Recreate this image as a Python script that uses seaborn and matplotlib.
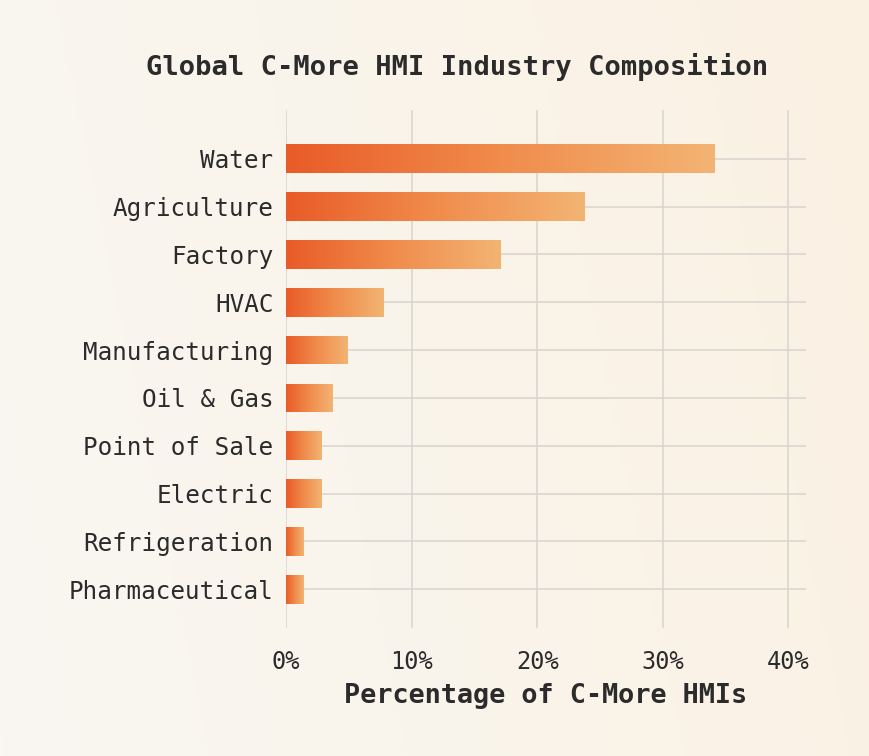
import numpy as np
import pandas as pd
import matplotlib
matplotlib.use('Agg')
import matplotlib.pyplot as plt
from matplotlib.colors import LinearSegmentedColormap
from matplotlib.ticker import FuncFormatter
import seaborn as sns

# data
industries = ['Water', 'Agriculture', 'Factory', 'HVAC', 'Manufacturing',
              'Oil & Gas', 'Point of Sale', 'Electric', 'Refrigeration',
              'Pharmaceutical']
share_pct = [34.1, 23.8, 17.1, 7.8, 4.9, 3.7, 2.8, 2.8, 1.4, 1.4]
x_ticks = [0, 10, 20, 30, 40]

df = pd.DataFrame({'industry': industries, 'share': share_pct})

sns.set_theme(style='white')
plt.rcParams['font.family'] = ['DejaVu Sans Mono', 'DejaVu Sans']
text_col = '#2b2b2b'
grid_col = '#d8d4ce'

fig = plt.figure(figsize=(8.7, 7.56), dpi=100)

# cream background gradient
bg_ax = fig.add_axes([0, 0, 1, 1], zorder=-10)
bg_cmap = LinearSegmentedColormap.from_list('bg', ['#f9f7f2', '#fbf1e3'])
gx, gy = np.meshgrid(np.linspace(0, 1, 200), np.linspace(0, 1, 200))
bg_ax.imshow(0.85 * gx + 0.15 * gy, cmap=bg_cmap, aspect='auto',
             extent=[0, 1, 0, 1], origin='lower')
bg_ax.axis('off')

ax = fig.add_axes([0.3287, 0.1693, 0.5977, 0.6852])
ax.patch.set_alpha(0)

sns.barplot(data=df, x='share', y='industry', orient='h', width=0.6,
            color='#e95e2a', ax=ax)

# paint each bar with its own left-to-right gradient
bar_cmap = LinearSegmentedColormap.from_list('bar', ['#e95b28', '#f08c4c', '#f3b473'])
grad = np.linspace(0, 1, 256).reshape(1, -1)
for p in ax.patches:
    x0, y0 = p.get_x(), p.get_y()
    w, h = p.get_width(), p.get_height()
    im = ax.imshow(grad, cmap=bar_cmap, aspect='auto',
                   extent=[x0, x0 + w, y0 + h, y0], zorder=2)
    im.set_clip_path(p)
    p.set_facecolor('none')
    p.set_edgecolor('none')

ax.set_xlim(0, 41.4)
ax.set_ylim(9.81, -1.02)
ax.set_xticks(x_ticks)
ax.xaxis.set_major_formatter(FuncFormatter(lambda v, _: f'{v:.0f}%'))

ax.set_axisbelow(True)
ax.grid(True, color=grid_col, linewidth=1.1)
for s in ax.spines.values():
    s.set_visible(False)
ax.tick_params(length=0, colors=text_col)
ax.tick_params(axis='y', pad=9, labelsize=17.5)
ax.tick_params(axis='x', pad=16, labelsize=17)

ax.set_ylabel('')
ax.set_xlabel('Percentage of C-More HMIs', fontsize=19.4, fontweight='bold',
              color=text_col, labelpad=6)
fig.text(0.526, 0.912, 'Global C-More HMI Industry Composition', ha='center',
         va='center', fontsize=19.5, fontweight='bold', color=text_col)

fig.savefig('out.png', dpi=100)
